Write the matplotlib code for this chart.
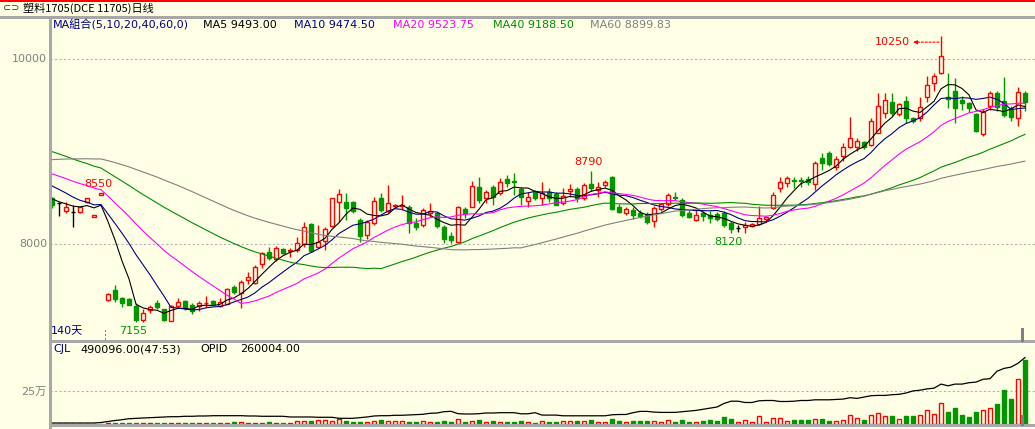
import matplotlib
matplotlib.use('Agg')
import matplotlib.pyplot as plt
from matplotlib.patches import Rectangle
from matplotlib.lines import Line2D
from matplotlib.transforms import offset_copy
import pandas as pd

plt.rcParams['font.family'] = ['DejaVu Sans', 'Noto Sans CJK SC']

# ---------------- data ----------------
title_text = '塑料1705(DCE 11705)日线'
ma_periods = [5, 10, 20, 40, 60]
ma_header = ['MA組合(5,10,20,40,60,0)', 'MA5 9493.00', 'MA10 9474.50',
             'MA20 9523.75', 'MA40 9188.50', 'MA60 8899.83']
vol_header = ['CJL', '490096.00(47:53)', 'OPID', '260004.00']
price_ticks = [8000, 10000]
vol_ticks = [250000]
vol_tick_labels = ['25万']
days_label = '140天'

# closes before the visible window (oldest first), estimated from the MA lines
prior_closes = [8200, 8240, 8290, 8350, 8410, 8470, 8530, 8590, 8650, 8710,
                8770, 8830, 8890, 8950, 9010, 9070, 9130, 9190, 9240, 9290,
                9440, 9460, 9470, 9460, 9440, 9410, 9380, 9340, 9300, 9260,
                9220, 9190, 9160, 9130, 9100, 9070, 9040, 9010, 8990, 8970,
                8950, 8930, 8920, 8910, 8900, 8890, 8880, 8860, 8850, 8830,
                8820, 8800, 8780, 8750, 8700, 8600, 8520, 8470, 8440]

opens = [8497, 8443, 8363, 8346, 8346, 8454, 8300, 8535, 7398, 7506,
         7423, 7405, 7333, 7182, 7285, 7369, 7297, 7174, 7335, 7391,
         7344, 7333, 7362, 7391, 7333, 7355, 7542, 7477, 7614, 7585,
         7787, 7918, 7845, 7949, 7932, 7938, 8000, 8219, 7974, 8039,
         8198, 8461, 8461, 8461, 8263, 8100, 8227, 8497, 8360, 8410,
         8410, 8400, 8233, 8209, 8335, 8335, 8184, 8090, 8028, 8378,
         8406, 8623, 8504, 8623, 8558, 8703, 8680, 8594, 8471, 8569,
         8497, 8569, 8544, 8443, 8580, 8594, 8497, 8649, 8587, 8638,
         8724, 8400, 8335, 8371, 8335, 8328, 8255, 8378, 8432, 8515,
         8479, 8342, 8263, 8335, 8320, 8328, 8335, 8227, 8173, 8184,
         8198, 8216, 8270, 8389, 8605, 8659, 8695, 8692, 8706, 8652,
         8930, 8984, 8839, 8958, 9055, 9055, 9103, 9073, 9206, 9423,
         9541, 9408, 9552, 9362, 9362, 9595, 9740, 9849, 9595, 9657,
         9560, 9524, 9408, 9192, 9495, 9632, 9552, 9459, 9362, 9632]
highs = [8515, 8460, 8454, 8425, 8405, 8500, 8318, 8550, 7470, 7560,
         7434, 7415, 7362, 7297, 7344, 7398, 7305, 7340, 7416, 7400,
         7362, 7390, 7445, 7395, 7420, 7530, 7560, 7614, 7704, 7780,
         7920, 7968, 7980, 7960, 7956, 8076, 8244, 8225, 8209, 8184,
         8505, 8594, 8550, 8470, 8281, 8263, 8515, 8558, 8641, 8440,
         8533, 8425, 8281, 8390, 8450, 8350, 8209, 8136, 8410, 8406,
         8688, 8731, 8587, 8641, 8713, 8749, 8767, 8616, 8569, 8590,
         8670, 8610, 8560, 8605, 8649, 8616, 8660, 8790, 8677, 8690,
         8735, 8436, 8400, 8400, 8371, 8350, 8414, 8445, 8550, 8562,
         8500, 8371, 8371, 8360, 8363, 8345, 8363, 8255, 8209, 8238,
         8230, 8414, 8310, 8569, 8724, 8738, 8731, 8731, 8740, 8900,
         8990, 9010, 8955, 9092, 9373, 9146, 9120, 9360, 9631, 9639,
         9639, 9530, 9603, 9380, 9595, 9819, 9849, 10250, 9849, 9795,
         9603, 9540, 9420, 9459, 9660, 9660, 9805, 9490, 9704, 9660]
lows = [8396, 8309, 8342, 8190, 8340, 8450, 8300, 8535, 7390, 7380,
        7320, 7340, 7155, 7165, 7254, 7297, 7175, 7170, 7310, 7290,
        7250, 7282, 7320, 7345, 7320, 7350, 7460, 7308, 7571, 7570,
        7740, 7830, 7820, 7900, 7866, 7920, 7975, 7920, 7956, 7940,
        8185, 8244, 8263, 8340, 8028, 8054, 8209, 8352, 8335, 8395,
        8371, 8125, 8155, 8190, 8298, 8180, 8017, 8017, 8025, 8281,
        8400, 8443, 8443, 8425, 8533, 8623, 8533, 8425, 8400, 8480,
        8425, 8460, 8420, 8425, 8515, 8460, 8480, 8580, 8515, 8620,
        8370, 8335, 8320, 8270, 8281, 8220, 8190, 8360, 8410, 8479,
        8290, 8280, 8252, 8255, 8227, 8255, 8190, 8120, 8136, 8125,
        8190, 8209, 8240, 8382, 8569, 8623, 8605, 8616, 8640, 8587,
        8803, 8850, 8803, 8904, 9038, 9012, 9030, 9060, 9200, 9362,
        9390, 9390, 9314, 9310, 9336, 9541, 9660, 9840, 9470, 9308,
        9455, 9430, 9210, 9170, 9450, 9440, 9373, 9330, 9279, 9440]
closes = [8425, 8443, 8406, 8346, 8400, 8497, 8318, 8550, 7459, 7409,
          7365, 7344, 7182, 7261, 7318, 7326, 7182, 7333, 7380, 7308,
          7282, 7369, 7369, 7355, 7380, 7513, 7480, 7597, 7643, 7758,
          7903, 7855, 7956, 7909, 7940, 8017, 8184, 7931, 8028, 8162,
          8497, 8544, 8396, 8360, 8090, 8244, 8468, 8371, 8450, 8425,
          8420, 8233, 8190, 8371, 8360, 8198, 8054, 8047, 8400, 8335,
          8630, 8479, 8562, 8515, 8677, 8666, 8672, 8515, 8508, 8497,
          8551, 8497, 8425, 8522, 8594, 8497, 8641, 8605, 8623, 8670,
          8378, 8346, 8378, 8317, 8309, 8238, 8389, 8432, 8533, 8497,
          8317, 8298, 8317, 8309, 8288, 8273, 8209, 8162, 8173, 8209,
          8219, 8281, 8298, 8533, 8670, 8713, 8684, 8684, 8677, 8876,
          8882, 8868, 8919, 9048, 9146, 9117, 9049, 9336, 9494, 9560,
          9423, 9517, 9362, 9336, 9487, 9725, 9819, 10035, 9567, 9470,
          9530, 9470, 9228, 9433, 9632, 9480, 9398, 9373, 9650, 9541]
volumes = [1500, 800, 1200, 900, 1000, 1300, 600, 500,
           8000, 8000, 5000, 7000, 9000, 5000, 5000, 4000, 8000, 7000,
           7000, 6000, 5000, 7000, 7000, 5000, 8000, 8000,
           15000, 15000, 8000, 8000, 8000, 15000, 8000, 8000, 7000, 22000,
           22000, 22000, 30000, 30000, 24000, 38000, 22000, 15000, 15000, 15000,
           22000, 30000, 22000, 20000, 20000, 15000, 15000, 20000, 13000, 15000,
           22000, 15000, 38000, 15000, 22000, 30000, 15000, 20000,
           15300, 15300, 15300, 25500, 15300, 7650, 23000, 15300, 15300, 23000,
           23000, 23000, 23000, 30600, 15300, 15300, 38250, 23000, 15300, 23000,
           23000, 23000, 23000, 15300, 30600, 15300, 30600, 15300, 15300, 23000,
           30600, 23000, 53500, 38250, 15300, 30600, 15300, 61200, 15300, 45900,
           45900, 23000, 30600, 30600, 30600, 38250, 38250, 23000, 23000, 30600,
           68850, 45900, 30600, 68850, 84150, 61200, 61200, 38250, 61200, 61200,
           68850, 107100, 76500, 160650, 91800, 122400, 68850, 53550, 91800, 107100,
           122400, 153000, 260100, 191250, 344250, 490096]
open_interest = [63000, 63000, 63000, 63000, 63000, 63000, 63000, 64500, 67500, 70500,
                 72900, 75900, 77100, 78000, 79000, 80200, 81100, 82000, 82000, 83200,
                 83200, 84100, 84100, 85000, 85000, 85000, 85000, 85000, 84100, 84100,
                 83200, 83200, 83200, 83200, 81100, 81100, 81100, 81100, 80200, 80200,
                 80200, 77100, 77100, 77100, 79000, 81100, 84100, 85000, 85000, 86200,
                 86200, 87100, 88000, 89200, 92200, 93100, 97000, 98200, 91000, 90100,
                 90100, 91000, 93100, 93100, 94000, 94000, 94000, 90700, 90700, 94000,
                 86800, 86800, 86800, 84700, 84700, 84700, 84700, 84700, 84700, 84700,
                 87700, 88600, 88600, 94000, 97900, 97900, 95800, 94900, 94900, 94900,
                 97000, 99100, 100900, 104200, 107200, 111100, 121700, 128600, 128600, 124700,
                 124700, 129800, 130700, 130700, 127700, 127700, 128600, 130700, 130700, 132800,
                 132800, 132800, 133700, 134900, 139100, 137000, 140900, 145100, 146000, 146000,
                 148100, 149300, 153200, 159600, 161700, 165600, 167700, 180000, 174900, 180000,
                 180000, 184200, 186000, 194500, 196300, 218800, 227200, 231200, 242600, 260004]

# annotated extremes: (candle index, value, kind)
marks = [(7, 8550, 'high'), (12, 7155, 'low'), (77, 8790, 'high'),
         (97, 8120, 'low'), (127, 10250, 'peak')]

# ---------------- style ----------------
W, H = 1035, 429
BG = '#FFFFE6'
RED = '#FF0000'
GREEN = '#009600'
NAVY = '#000080'
MAG = '#FF00FF'
MA_GREEN = '#008C00'
GRAY = '#808080'
SEP = '#A8A8A8'
ma_colors = ['#000000', NAVY, MAG, MA_GREEN, GRAY]
header_colors = [NAVY, '#000000', NAVY, MAG, MA_GREEN, GRAY]
header_x = [53, 203, 294, 393, 493, 590]
BW = 0.62
LW = 1.0


def fx(px):
    return px / W


def fy(py):
    return 1 - py / H


n = len(closes)
xs = list(range(n))
xlim = (-2 / 7, (1035 - 52) / 7)

fig = plt.figure(figsize=(W / 100, H / 100), dpi=100, facecolor=BG)

# ------------- main price panel -------------
ax = fig.add_axes([fx(50), fy(340), fx(1035) - fx(50), fy(17) - fy(340)])
ax.set_facecolor(BG)
ax.set_xlim(*xlim)
ax.set_ylim(6965, 10457)
ax.set_xticks([])
ax.set_yticks([])
for s in ax.spines.values():
    s.set_visible(False)

for p in price_ticks:
    ax.axhline(p, color='#B4B4B4', lw=0.8, ls=(0, (2, 2)), zorder=1)
    fig.text(fx(47), ax.transData.transform((0, p))[1] / H, str(p),
             ha='right', va='center', fontsize=8, color=GRAY)

for i in xs:
    o, h, l, c = opens[i], highs[i], lows[i], closes[i]
    if c > o:
        ax.vlines(i, c, h, color=RED, lw=LW, zorder=3)
        ax.vlines(i, l, o, color=RED, lw=LW, zorder=3)
        ax.add_patch(Rectangle((i - BW / 2, o), BW, c - o, facecolor=BG,
                               edgecolor=RED, lw=LW, zorder=3))
    elif c < o:
        ax.vlines(i, l, h, color=GREEN, lw=LW, zorder=3)
        ax.add_patch(Rectangle((i - BW / 2, c), BW, o - c, facecolor=GREEN,
                               edgecolor=GREEN, lw=LW, zorder=3))
    else:
        ax.vlines(i, l, h, color='black', lw=LW, zorder=3)
        ax.hlines(o, i - BW / 2, i + BW / 2, color='black', lw=LW, zorder=3)

full = pd.Series(prior_closes + closes, dtype=float)
for per, col in zip(ma_periods, ma_colors):
    ma = full.rolling(per).mean().iloc[-n:].to_numpy()
    ax.plot(xs, ma, color=col, lw=0.8, zorder=4)

for idx, val, kind in marks:
    if kind == 'high':
        ax.annotate(str(val), xy=(idx, val), xytext=(-3, 9),
                    textcoords='offset pixels', ha='center', va='center',
                    fontsize=8, color=RED)
    elif kind == 'low':
        ax.annotate(str(val), xy=(idx, val), xytext=(-3, -9),
                    textcoords='offset pixels', ha='center', va='center',
                    fontsize=8, color=GREEN)
    else:
        ax.annotate(str(val), xy=(idx, val), xytext=(-31, -6),
                    textcoords='offset pixels', ha='right', va='center',
                    fontsize=8, color=RED)
        ax.annotate('', xy=(idx, val),
                    xycoords=offset_copy(ax.transData, fig=fig, x=-28, y=-6, units='dots'),
                    xytext=(idx, val),
                    textcoords=offset_copy(ax.transData, fig=fig, x=-2, y=-6, units='dots'),
                    arrowprops=dict(arrowstyle='-|>', color=RED, lw=0.8,
                                    linestyle=(0, (2, 1.5)), shrinkA=0, shrinkB=0,
                                    mutation_scale=6))

# ------------- volume panel -------------
vax = fig.add_axes([fx(50), fy(424), fx(1035) - fx(50), fy(340) - fy(424)])
vax.set_facecolor(BG)
vax.set_xlim(*xlim)
vax.set_ylim(0, 646000)
vax.set_xticks([])
vax.set_yticks([])
for s in vax.spines.values():
    s.set_visible(False)
for t, lab in zip(vol_ticks, vol_tick_labels):
    vax.axhline(t, color='#B4B4B4', lw=0.8, ls=(0, (2, 2)), zorder=1)
    fig.text(fx(46), vax.transData.transform((0, t))[1] / H, lab,
             ha='right', va='center', fontsize=8, color=GRAY)

for i in xs:
    v = volumes[i]
    if closes[i] >= opens[i]:
        vax.add_patch(Rectangle((i - BW / 2, 0), BW, v, facecolor=BG, edgecolor=RED,
                                lw=LW, zorder=3))
    else:
        vax.add_patch(Rectangle((i - BW / 2, 0), BW, v, facecolor=GREEN, edgecolor=GREEN,
                                lw=LW, zorder=3))

oax = vax.twinx()
oax.set_xlim(*xlim)
oax.set_ylim(60000, 60000 + 84 * 3008)
oax.set_yticks([])
for s in oax.spines.values():
    s.set_visible(False)
oax.plot(xs, open_interest, color='black', lw=0.9, zorder=4)

# ------------- frame, separators, texts -------------
def fline(x0, y0, x1, y1, color=SEP, lw=1.0, ls='-'):
    fig.add_artist(Line2D([fx(x0), fx(x1)], [fy(y0), fy(y1)], color=color, lw=lw,
                          ls=ls, transform=fig.transFigure, antialiased=False))

fline(0, 0.5, 1035, 0.5, color=RED, lw=1.2)
fline(0, 17, 1035, 17)
fline(50, 17, 50, 429)
fline(50, 340.5, 1035, 340.5)
fline(50, 424.5, 1035, 424.5)
fline(105, 330, 105, 340, color=GRAY, lw=0.8, ls=(0, (1, 2)))
fline(1022, 329, 1022, 340, color=GRAY, lw=1.0)
fline(1022, 416, 1022, 424, color=GRAY, lw=1.0)

fig.text(fx(3), fy(8.5), '⊂⊃', fontsize=7, va='center', color='#303030')
fig.text(fx(23), fy(8.5), title_text, fontsize=8, va='center', color='black',
         family=['Noto Sans CJK SC', 'DejaVu Sans'])

for s, col, x in zip(ma_header, header_colors, header_x):
    fig.text(fx(x), fy(25), s, fontsize=8, va='center', color=col)

vh_x = [53, 80, 200, 240]
vh_c = [NAVY, 'black', 'black', 'black']
for s, col, x in zip(vol_header, vh_c, vh_x):
    fig.text(fx(x), fy(349), s, fontsize=8, va='center', color=col)

fig.text(fx(51), fy(331.5), days_label, fontsize=8, va='center', color=NAVY)

fig.savefig('out.png', dpi=100, facecolor=BG)
